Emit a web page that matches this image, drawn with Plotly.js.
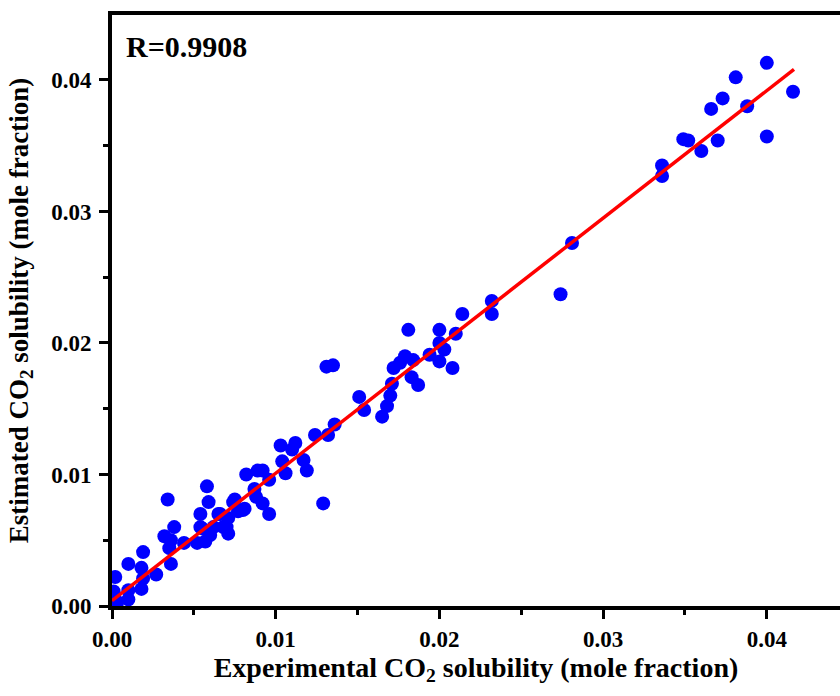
<!DOCTYPE html>
<html>
<head>
<meta charset="utf-8">
<script src="https://cdn.plot.ly/plotly-3.0.1.min.js"></script>
<style>html,body{margin:0;padding:0;background:#fff;}#chart{width:840px;height:696px;}</style>
</head>
<body>
<div id="chart"></div>
<script>
// Experimental vs estimated CO2 solubility (mole fraction)
const experimental = [
  0.0001,0.0002,0.0003,0.0002,0.0010,0.0010,0.0010,0.0018,0.0019,0.0018,
  0.0019,0.0027,0.0032,0.0034,0.0036,0.0035,0.0036,0.0038,0.0044,0.0052,
  0.0057,0.0054,0.0054,0.0055,0.0058,0.0059,0.0060,0.0062,0.0065,0.0066,
  0.0068,0.0071,0.0070,0.0071,0.0074,0.0075,0.0077,0.0080,0.0081,0.0082,
  0.0089,0.0092,0.0087,0.0088,0.0096,0.0096,0.0092,0.0103,0.0112,0.0110,
  0.0104,0.0117,0.0119,0.0106,0.0124,0.0132,0.0136,0.0129,0.0131,0.0135,
  0.0151,0.0154,0.0165,0.0168,0.0170,0.0171,0.0172,0.0176,0.0179,0.0184,
  0.0183,0.0187,0.0181,0.0194,0.0200,0.0203,0.0200,0.0208,0.0200,0.0210,
  0.0214,0.0232,0.0232,0.0274,0.0281,0.0336,0.0336,0.0349,0.0352,0.0360,
  0.0366,0.0370,0.0373,0.0381,0.0388,0.0400,0.0400,0.0416
];
const estimated = [
  0.0011,0.0005,0.0002,0.0022,0.0005,0.0012,0.0032,0.0013,0.0021,0.0029,
  0.0041,0.0024,0.0053,0.0081,0.0050,0.0044,0.0032,0.0060,0.0048,0.0048,
  0.0049,0.0060,0.0070,0.0059,0.0091,0.0079,0.0054,0.0060,0.0070,0.0070,
  0.0060,0.0055,0.0060,0.0067,0.0079,0.0081,0.0072,0.0073,0.0074,0.0100,
  0.0103,0.0103,0.0089,0.0083,0.0096,0.0070,0.0078,0.0122,0.0124,0.0119,
  0.0110,0.0111,0.0103,0.0101,0.0130,0.0130,0.0138,0.0078,0.0182,0.0183,
  0.0159,0.0149,0.0144,0.0152,0.0160,0.0169,0.0181,0.0185,0.0190,0.0187,
  0.0174,0.0168,0.0210,0.0191,0.0200,0.0195,0.0186,0.0181,0.0210,0.0207,
  0.0222,0.0232,0.0222,0.0237,0.0276,0.0335,0.0327,0.0355,0.0354,0.0346,
  0.0378,0.0354,0.0386,0.0402,0.0380,0.0413,0.0357,0.0391
];
// Linear fit line end points
const fitX = [0.0, 0.04166];
const fitY = [0.0004, 0.0408];
const annotationText = 'R=0.9908';

const serif = 'Liberation Serif, Times New Roman, serif';

const traces = [
  {x: experimental, y: estimated, type: 'scatter', mode: 'markers',
   marker: {color: '#0000ff', size: 14, line: {width: 0}}, showlegend: false},
  {x: fitX, y: fitY, type: 'scatter', mode: 'lines',
   line: {color: '#ff0000', width: 3.5}, showlegend: false}
];

const axisCommon = {
  showline: true, linecolor: '#000', linewidth: 4,
  showgrid: false, zeroline: false,
  ticks: 'outside', ticklen: 9, tickwidth: 3, tickcolor: '#000',
  dtick: 0.01, tick0: 0, tickformat: '.2f',
  tickfont: {family: serif, size: 23, color: '#000', weight: 'bold'},
  minor: {dtick: 0.005, ticks: 'outside', ticklen: 5, tickwidth: 3, tickcolor: '#000'}
};

const layout = {
  width: 840, height: 696,
  margin: {l: 112, r: 0, t: 15, b: 90},
  paper_bgcolor: '#fff', plot_bgcolor: '#fff',
  xaxis: Object.assign({}, axisCommon, {
    range: [0, 0.04447], mirror: true, automargin: true,
    title: {text: 'Experimental CO<sub>2</sub> solubility (mole fraction)',
            font: {family: serif, size: 28, color: '#000', weight: 'bold'}, standoff: 6}
  }),
  yaxis: Object.assign({}, axisCommon, {
    range: [0, 0.04494], mirror: false, ticklabelstandoff: 3, automargin: true,
    title: {text: 'Estimated CO<sub>2</sub> solubility (mole fraction)',
            font: {family: serif, size: 27, color: '#000', weight: 'bold'}, standoff: 16}
  }),
  annotations: [{
    text: annotationText, xref: 'paper', yref: 'paper', x: 0.016, y: 0.946,
    xanchor: 'left', yanchor: 'middle', showarrow: false,
    font: {family: serif, size: 30, color: '#000', weight: 'bold'}
  }]
};

Plotly.newPlot('chart', traces, layout, {displayModeBar: false, staticPlot: true});
</script>
</body>
</html>
